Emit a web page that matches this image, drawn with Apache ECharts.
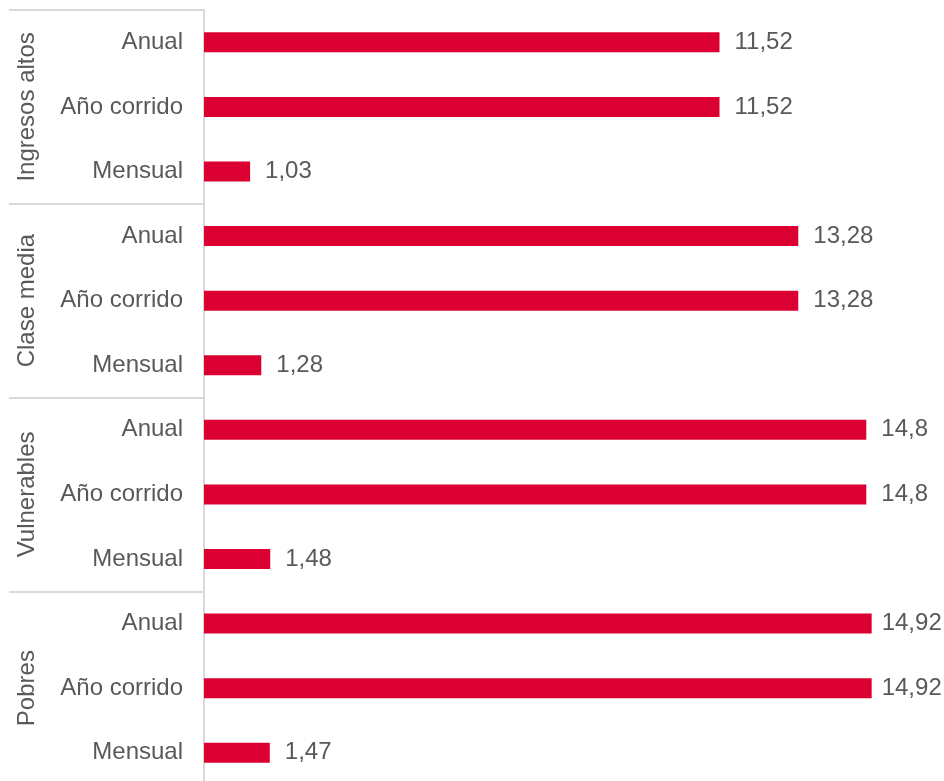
<!DOCTYPE html>
<html>
<head>
<meta charset="utf-8">
<script src="https://cdn.jsdelivr.net/npm/echarts@6/dist/echarts.min.js"></script>
<style>html,body{margin:0;padding:0;background:#fff;overflow:hidden;}#c{width:944px;height:781px;}</style>
</head>
<body>
<div id="c"></div>
<script>
const groups = ['Ingresos altos', 'Clase media', 'Vulnerables', 'Pobres'];
const rowLabels = ['Anual', 'Año corrido', 'Mensual',
                   'Anual', 'Año corrido', 'Mensual',
                   'Anual', 'Año corrido', 'Mensual',
                   'Anual', 'Año corrido', 'Mensual'];
const values = [11.52, 11.52, 1.03,
                13.28, 13.28, 1.28,
                14.8, 14.8, 1.48,
                14.92, 14.92, 1.47];

const textColor = '#595959';
const lineColor = '#d9d9d9';
const font = "'Liberation Sans', Arial, sans-serif";
const fs = 24;
const maxVal = Math.max.apply(null, values);

const chart = echarts.init(document.getElementById('c'));
chart.setOption({
  animation: false,
  grid: { left: 204, width: 716, top: 10, height: 775, containLabel: false, outerBoundsMode: 'none' },
  xAxis: { type: 'value', min: 0, max: 16, show: false },
  yAxis: [
    {
      type: 'category', data: rowLabels.map((l, i) => i + ''),
      inverse: true,
      axisLine: { show: true, lineStyle: { color: lineColor, width: 2 } },
      axisTick: { show: false },
      axisLabel: { interval: 0, margin: 21, color: textColor, fontFamily: font, fontSize: fs,
        formatter: (v, i) => rowLabels[i] }
    },
    {
      type: 'category', data: groups, inverse: true, position: 'left',
      axisLine: { show: false },
      axisTick: { show: true, interval: 0, length: 195, lineStyle: { color: lineColor, width: 2 } },
      axisLabel: { interval: 0, rotate: 90, margin: 165, color: textColor, fontFamily: font, fontSize: fs,
        hideOverlap: false }
    }
  ],
  series: [{
    type: 'bar', yAxisIndex: 0, barWidth: 20,
    data: values.map(v => v === maxVal ? { value: v, label: { distance: 10 } } : v),
    itemStyle: { color: '#DC0032' },
    label: { show: true, position: 'right', distance: 15, color: textColor,
      fontFamily: font, fontSize: fs,
      formatter: p => String(p.value).replace('.', ',') }
  }]
});
</script>
</body>
</html>
